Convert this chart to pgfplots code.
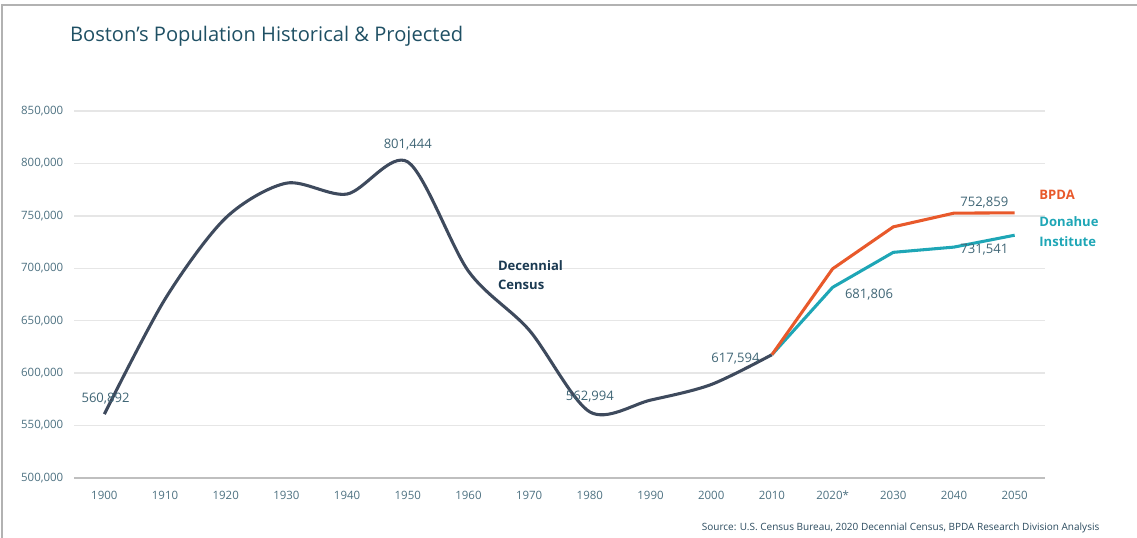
\documentclass[border=0pt]{standalone}
\usepackage{pgfplots}
\pgfplotsset{compat=1.18}
\usepackage{fontspec}
\setmainfont{Open Sans}
\definecolor{census}{HTML}{3E4A5D}
\definecolor{bpda}{HTML}{E8592B}
\definecolor{donahue}{HTML}{1EA6B6}
\definecolor{titlec}{HTML}{1F5064}
\definecolor{tickc}{HTML}{4D7181}
\definecolor{labc}{HTML}{3F6575}
\definecolor{gridc}{HTML}{E6E6E6}
\definecolor{srcc}{HTML}{2A4A5E}
\definecolor{decc}{HTML}{1B3A52}
\begin{document}
\begin{tikzpicture}
\path[use as bounding box] (0pt,0pt) rectangle (852.75pt,403.5pt);
\draw[color=gray!60,line width=0.8pt] (1.5pt,0pt) -- (1.5pt,399.75pt) -- (852.75pt,399.75pt);
\node[anchor=base west,text=titlec,font=\fontsize{15.1}{18}\selectfont] at (49pt,372pt) {Boston's Population Historical \& Projected};
\node[anchor=base east,text=srcc,font=\fontsize{7.5}{9}\selectfont] at (828pt,5.5pt) {Source: U.S. Census Bureau, 2020 Decennial Census, BPDA Research Division Analysis};
\begin{axis}[
  at={(55.5pt,45pt)}, anchor=south west,
  scale only axis, width=728.25pt, height=275.25pt,
  xmin=-0.5, xmax=15.5, ymin=500000, ymax=850000,
  xtick={0,...,15},
  xticklabels={1900,1910,1920,1930,1940,1950,1960,1970,1980,1990,2000,2010,2020*,2030,2040,2050},
  ytick={500000,550000,...,850000},
  scaled y ticks=false,
  /pgf/number format/fixed,
  /pgf/number format/1000 sep={,},
  /pgf/number format/assume math mode=true,
  tick label style={text=tickc, font=\fontsize{8.6}{10}\selectfont},
  xticklabel style={yshift=-6pt},
  yticklabel style={xshift=-4.5pt},
  major tick length=0pt,
  axis x line*=bottom, axis y line*=left,
  x axis line style={draw=gray!50, line width=1.5pt, -},
  y axis line style={draw=none},
  ymajorgrids, grid style={gridc, line width=1pt},
  clip=false,
]
\addplot[census, line width=2.3pt, smooth, tension=0.5] coordinates {
(0,560892) (1,670585) (2,748060) (3,781188) (4,770816) (5,801444)
(6,697197) (7,641071) (8,562994) (9,574283) (10,589141) (11,617594)
};
\addplot[donahue, line width=2.3pt] coordinates {
(11,617594) (12,681806) (13,715200) (14,720200) (15,731541)
};
\addplot[bpda, line width=2.3pt] coordinates {
(11,617594) (12,699500) (13,739500) (14,752600) (15,752859)
};
\begin{scope}[every node/.style={text=labc, font=\fontsize{9.8}{12}\selectfont}]
\node at (axis cs:0.02,575500) {560,892};
\node at (axis cs:5,818000) {801,444};
\node at (axis cs:8,578000) {562,994};
\node at (axis cs:10.4,613500) {617,594};
\node at (axis cs:12.6,675000) {681,806};
\node at (axis cs:14.5,763000) {752,859};
\node at (axis cs:14.5,717500) {731,541};
\end{scope}
\node[anchor=west, align=left, text=decc, font=\fontsize{9.8}{14.3}\selectfont\bfseries] at (axis cs:6.41,693600) {Decennial\\Census};
\node[anchor=west, text=bpda, font=\fontsize{9.8}{12}\selectfont\bfseries] at (axis cs:15.33,769900) {BPDA};
\node[anchor=west, align=left, text=donahue, font=\fontsize{9.8}{15}\selectfont\bfseries] at (axis cs:15.33,734600) {Donahue\\Institute};
\end{axis}
\end{tikzpicture}
\end{document}
